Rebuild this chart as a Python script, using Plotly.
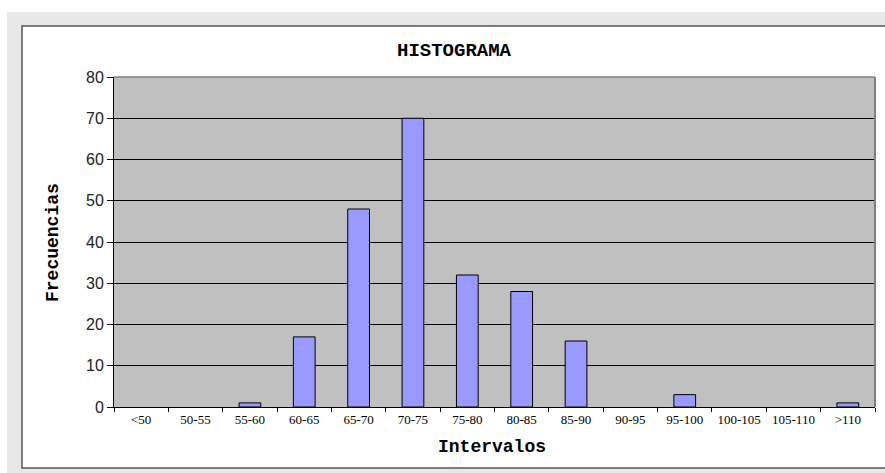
import plotly.graph_objects as go

categories = ["<50", "50-55", "55-60", "60-65", "65-70", "70-75", "75-80",
              "80-85", "85-90", "90-95", "95-100", "100-105", "105-110", ">110"]
frequencies = [0, 0, 1, 17, 48, 70, 32, 28, 16, 0, 3, 0, 0, 1]
y_ticks = [0, 10, 20, 30, 40, 50, 60, 70, 80]

W, H = 885, 473
L, R, T, B = 114, 875, 77, 407

def xp(px):
    return (px - L) / (R - L)

def yp(py):
    return (B - py) / (B - T)

outline_widths = [1 if v > 0 else 0 for v in frequencies]

fig = go.Figure(go.Bar(
    x=categories, y=frequencies,
    marker=dict(color="#9999ff", line=dict(color="#000000", width=outline_widths)),
    hoverinfo="x+y",
))

mono = "Liberation Mono, Courier New, monospace"

fig.update_layout(
    width=W, height=H,
    margin=dict(l=L, r=W - R, t=T, b=H - B),
    paper_bgcolor="#ffffff",
    plot_bgcolor="#c0c0c0",
    bargap=0.6,
    showlegend=False,
    xaxis=dict(
        type="category", tickson="boundaries",
        ticks="outside", ticklen=4, tickcolor="#000000",
        showline=True, linecolor="#000000", linewidth=1,
        showgrid=False,
        tickfont=dict(family="Liberation Serif, Times New Roman, serif", size=13, color="#000000"),
        fixedrange=True,
    ),
    yaxis=dict(
        range=[0, 80], tickvals=y_ticks,
        ticks="outside", ticklen=6, tickcolor="#000000",
        showline=True, linecolor="#000000", linewidth=1,
        showgrid=True, gridcolor="#000000", gridwidth=1,
        zeroline=False,
        tickfont=dict(family="Liberation Sans, Arial, sans-serif", size=16, color="#222222"),
        fixedrange=True,
    ),
    shapes=[
        dict(type="rect", xref="paper", yref="paper", layer="below",
             x0=xp(7), x1=xp(890), y0=yp(12), y1=yp(480),
             fillcolor="#e8e8e8", line=dict(width=0)),
        dict(type="rect", xref="paper", yref="paper", layer="below",
             x0=xp(22), x1=xp(895), y0=yp(26), y1=yp(468),
             fillcolor="#ffffff", line=dict(color="#555555", width=1.5)),
        dict(type="rect", xref="paper", yref="paper", layer="below",
             x0=0, x1=1, y0=0, y1=1,
             fillcolor="#c0c0c0", line=dict(width=0)),
        dict(type="line", xref="paper", yref="paper",
             x0=0, x1=1, y0=1, y1=1,
             line=dict(color="#808080", width=1.5)),
        dict(type="line", xref="paper", yref="paper",
             x0=1, x1=1, y0=0, y1=1,
             line=dict(color="#808080", width=2)),
    ],
    annotations=[
        dict(text="<b>HISTOGRAMA</b>", xref="paper", yref="paper",
             x=xp(454), y=yp(51), xanchor="center", yanchor="middle",
             showarrow=False, font=dict(family=mono, size=19, color="#000000")),
        dict(text="<b>Intervalos</b>", xref="paper", yref="paper",
             x=xp(492), y=yp(447), xanchor="center", yanchor="middle",
             showarrow=False, font=dict(family=mono, size=18, color="#000000")),
        dict(text="<b>Frecuencias</b>", xref="paper", yref="paper",
             x=xp(53), y=yp(243), xanchor="center", yanchor="middle",
             textangle=-90,
             showarrow=False, font=dict(family=mono, size=18, color="#000000")),
    ],
)

fig.write_html("out.html", config={"displayModeBar": False},
               post_script="document.body.style.margin='0';document.body.style.overflow='hidden';")
